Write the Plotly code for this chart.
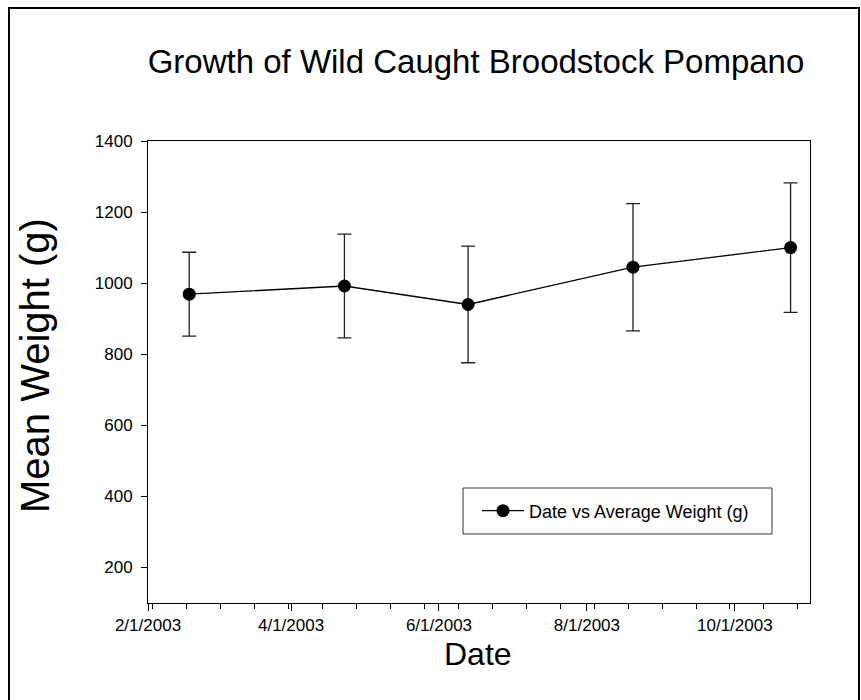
import plotly.graph_objects as go

# Sampling dates and mean broodstock weights with standard deviations
dates = ["2003-02-18", "2003-04-23", "2003-06-13", "2003-08-20", "2003-10-24"]
mean_weight = [969, 992, 940, 1045, 1100]
weight_sd = [118, 146, 164, 179, 182]

x_tick_vals = ["2003-02-01", "2003-04-01", "2003-06-01", "2003-08-01", "2003-10-01"]
x_tick_text = ["2/1/2003", "4/1/2003", "6/1/2003", "8/1/2003", "10/1/2003"]
y_tick_vals = [200, 400, 600, 800, 1000, 1200, 1400]

W, H = 861, 700
L, R, T, B = 148, 51, 141, 97
PW, PH = W - L - R, H - T - B


def px_x(p):
    return (p - L) / PW


def px_y(p):
    return (H - B - p) / PH


FONT = "Liberation Sans, Arial, sans-serif"

fig = go.Figure()
fig.add_trace(go.Scatter(
    x=dates, y=mean_weight,
    mode="lines+markers",
    name="Date vs Average Weight (g)",
    line=dict(color="black", width=1.3),
    marker=dict(color="black", size=13),
    error_y=dict(type="data", array=weight_sd, visible=True,
                 color="#222222", thickness=1.3, width=7),
))

fig.update_layout(
    width=W, height=H,
    margin=dict(l=L, r=R, t=T, b=B),
    paper_bgcolor="white", plot_bgcolor="white",
    font=dict(family=FONT, color="black"),
    title=dict(text="Growth of Wild Caught Broodstock Pompano",
               x=476 / W, xanchor="center",
               y=1 - 61 / H, yanchor="middle",
               font=dict(size=33, family=FONT, color="black")),
    showlegend=True,
    legend=dict(x=px_x(477), y=px_y(511), xanchor="left", yanchor="middle",
                bgcolor="rgba(0,0,0,0)", borderwidth=0, itemwidth=42,
                font=dict(size=18, family=FONT, color="black")),
    xaxis=dict(
        type="date",
        range=["2003-02-01", "2003-11-01"],
        tickvals=x_tick_vals, ticktext=x_tick_text,
        ticks="outside", ticklen=7, tickwidth=1, tickcolor="black",
        minor=dict(ticks="outside", ticklen=5, tickwidth=1, tickcolor="black",
                   dtick=14 * 86400000, tick0="2003-02-17", showgrid=False),
        showline=True, linecolor="black", linewidth=1, mirror=True,
        showgrid=False, zeroline=False,
        tickfont=dict(size=17, family=FONT, color="black"),
    ),
    yaxis=dict(
        range=[100, 1400],
        tickvals=y_tick_vals,
        ticks="outside", ticklen=6, tickwidth=1, tickcolor="black",
        ticklabelstandoff=5,
        showline=True, linecolor="black", linewidth=1, mirror=True,
        showgrid=False, zeroline=False,
        tickfont=dict(size=17, family=FONT, color="black"),
    ),
    annotations=[
        dict(text="Mean Weight (g)", textangle=-90, showarrow=False,
             xref="paper", yref="paper", x=px_x(35), y=px_y(366),
             xanchor="center", yanchor="middle",
             font=dict(size=40, family=FONT, color="black")),
        dict(text="Date", showarrow=False,
             xref="paper", yref="paper", x=px_x(478), y=px_y(654),
             xanchor="center", yanchor="middle",
             font=dict(size=32, family=FONT, color="black")),
    ],
    shapes=[
        # legend frame
        dict(type="rect", xref="paper", yref="paper",
             x0=px_x(463), x1=px_x(772), y0=px_y(488), y1=px_y(534),
             line=dict(color="#333333", width=1), fillcolor="rgba(0,0,0,0)"),
        # outer figure frame (open at the bottom edge of the page)
        dict(type="rect", xref="paper", yref="paper",
             x0=px_x(9), x1=px_x(859), y0=px_y(8), y1=px_y(710),
             line=dict(color="black", width=2), fillcolor="rgba(0,0,0,0)"),
    ],
)

fig.write_html("out.html")
